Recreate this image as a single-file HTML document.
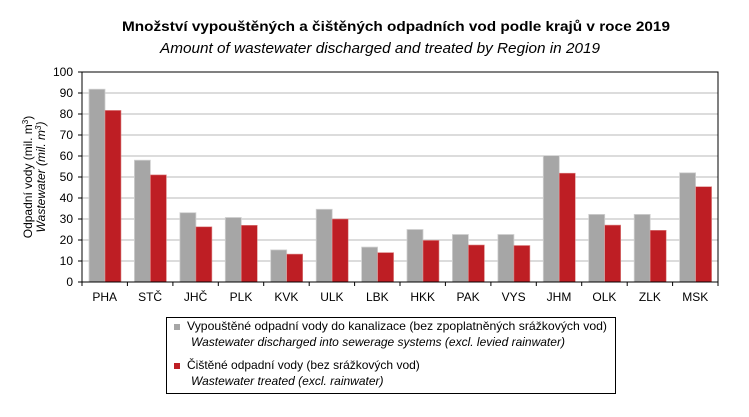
<!DOCTYPE html>
<html><head><meta charset="utf-8"><style>body{margin:0;background:#fff}</style></head><body>
<svg width="749" height="412" xmlns="http://www.w3.org/2000/svg" font-family="Liberation Sans, sans-serif">
<rect width="749" height="412" fill="#fff"/>
<text x="122" y="31" font-size="14" font-weight="bold" textLength="548" lengthAdjust="spacingAndGlyphs">Množství vypouštěných a čištěných odpadních vod podle krajů v roce 2019</text>
<text x="160" y="53" font-size="14.5" font-style="italic" textLength="440" lengthAdjust="spacingAndGlyphs">Amount of wastewater discharged and treated by Region in 2019</text>
<g stroke="#b8b8b8" stroke-width="1">
<line x1="82" x2="718" y1="93" y2="93"/><line x1="82" x2="718" y1="114" y2="114"/><line x1="82" x2="718" y1="135" y2="135"/><line x1="82" x2="718" y1="156" y2="156"/><line x1="82" x2="718" y1="177" y2="177"/><line x1="82" x2="718" y1="198" y2="198"/><line x1="82" x2="718" y1="219" y2="219"/><line x1="82" x2="718" y1="240" y2="240"/><line x1="82" x2="718" y1="261" y2="261"/>
</g>
<g fill="#a6a6a6" stroke="#d0d0d0" stroke-width="0.8">
<rect x="89" y="89.2" width="16" height="192.8"/><rect x="134.4" y="160.2" width="16" height="121.8"/><rect x="179.9" y="212.7" width="16" height="69.3"/><rect x="225.3" y="217.5" width="16" height="64.5"/><rect x="270.7" y="249.9" width="16" height="32.1"/><rect x="316.2" y="209.3" width="16" height="72.7"/><rect x="361.6" y="247.1" width="16" height="34.9"/><rect x="407" y="229.5" width="16" height="52.5"/><rect x="452.4" y="234.5" width="16" height="47.5"/><rect x="497.9" y="234.5" width="16" height="47.5"/><rect x="543.3" y="155.6" width="16" height="126.4"/><rect x="588.7" y="214.4" width="16" height="67.6"/><rect x="634.2" y="214.4" width="16" height="67.6"/><rect x="679.6" y="172.8" width="16" height="109.2"/>
</g>
<g fill="#be1e24" stroke="#dd8888" stroke-width="0.6">
<rect x="105" y="110.4" width="16" height="171.6"/><rect x="150.4" y="174.9" width="16" height="107.1"/><rect x="195.9" y="226.8" width="16" height="55.2"/><rect x="241.3" y="225.3" width="16" height="56.7"/><rect x="286.7" y="254.1" width="16" height="27.9"/><rect x="332.2" y="219" width="16" height="63"/><rect x="377.6" y="252.6" width="16" height="29.4"/><rect x="423" y="240.4" width="16" height="41.6"/><rect x="468.4" y="245" width="16" height="37"/><rect x="513.9" y="245.5" width="16" height="36.5"/><rect x="559.3" y="173.2" width="16" height="108.8"/><rect x="604.7" y="225.1" width="16" height="56.9"/><rect x="650.2" y="230.3" width="16" height="51.7"/><rect x="695.6" y="186.7" width="16" height="95.3"/>
</g>
<rect x="82" y="72" width="636" height="210" fill="none" stroke="#000" stroke-width="1"/>
<g stroke="#000">
<line x1="82" x2="718" y1="282" y2="282"/>
<line x1="78" x2="82" y1="72" y2="72"/><line x1="78" x2="82" y1="93" y2="93"/><line x1="78" x2="82" y1="114" y2="114"/><line x1="78" x2="82" y1="135" y2="135"/><line x1="78" x2="82" y1="156" y2="156"/><line x1="78" x2="82" y1="177" y2="177"/><line x1="78" x2="82" y1="198" y2="198"/><line x1="78" x2="82" y1="219" y2="219"/><line x1="78" x2="82" y1="240" y2="240"/><line x1="78" x2="82" y1="261" y2="261"/><line x1="78" x2="82" y1="282" y2="282"/>
<line x1="82" x2="82" y1="282" y2="286"/><line x1="127.4" x2="127.4" y1="282" y2="286"/><line x1="172.9" x2="172.9" y1="282" y2="286"/><line x1="218.3" x2="218.3" y1="282" y2="286"/><line x1="263.7" x2="263.7" y1="282" y2="286"/><line x1="309.2" x2="309.2" y1="282" y2="286"/><line x1="354.6" x2="354.6" y1="282" y2="286"/><line x1="400" x2="400" y1="282" y2="286"/><line x1="445.4" x2="445.4" y1="282" y2="286"/><line x1="490.9" x2="490.9" y1="282" y2="286"/><line x1="536.3" x2="536.3" y1="282" y2="286"/><line x1="581.7" x2="581.7" y1="282" y2="286"/><line x1="627.2" x2="627.2" y1="282" y2="286"/><line x1="672.6" x2="672.6" y1="282" y2="286"/><line x1="718" x2="718" y1="282" y2="286"/>
</g>
<g font-size="12" text-anchor="end">
<text x="73" y="76">100</text><text x="73" y="97">90</text><text x="73" y="118">80</text><text x="73" y="139">70</text><text x="73" y="160">60</text><text x="73" y="181">50</text><text x="73" y="202">40</text><text x="73" y="223">30</text><text x="73" y="244">20</text><text x="73" y="265">10</text><text x="73" y="286">0</text>
</g>
<g font-size="12" text-anchor="middle">
<text x="104.7" y="301">PHA</text><text x="150.1" y="301">STČ</text><text x="195.6" y="301">JHČ</text><text x="241" y="301">PLK</text><text x="286.4" y="301">KVK</text><text x="331.9" y="301">ULK</text><text x="377.3" y="301">LBK</text><text x="422.7" y="301">HKK</text><text x="468.1" y="301">PAK</text><text x="513.6" y="301">VYS</text><text x="559" y="301">JHM</text><text x="604.4" y="301">OLK</text><text x="649.9" y="301">ZLK</text><text x="695.3" y="301">MSK</text>
</g>
<text transform="translate(32,177) rotate(-90)" font-size="12" text-anchor="middle">Odpadní vody (mil. m<tspan font-size="8" dy="-4">3</tspan><tspan dy="4">)</tspan></text>
<text transform="translate(45,177) rotate(-90)" font-size="12" font-style="italic" text-anchor="middle">Wastewater (mil. m<tspan font-size="8" dy="-4">3</tspan><tspan dy="4">)</tspan></text>
<rect x="166.5" y="317.5" width="449" height="76" fill="#fff" stroke="#000"/>
<rect x="174" y="324" width="6" height="6" fill="#a6a6a6"/>
<rect x="174" y="363" width="6" height="6" fill="#be1e24"/>
<g font-size="12">
<text x="187" y="330" textLength="420" lengthAdjust="spacingAndGlyphs">Vypouštěné odpadní vody do kanalizace (bez zpoplatněných srážkových vod)</text>
<text x="191" y="346" font-style="italic">Wastewater discharged into sewerage systems (excl. levied rainwater)</text>
<text x="187" y="369">Čištěné odpadní vody (bez srážkových vod)</text>
<text x="191" y="385" font-style="italic">Wastewater treated (excl. rainwater)</text>
</g>
</svg>
</body></html>
